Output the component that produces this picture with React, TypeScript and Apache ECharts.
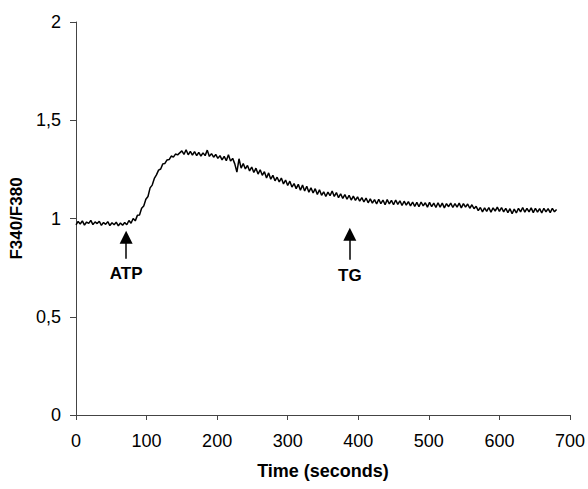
import React, { useEffect, useRef } from "react";
import * as echarts from "echarts";

const SAMPLE_STEP = 3; // seconds between samples
const ratioValues: number[] = [
  0.968, 0.985, 0.972, 0.988, 0.966, 0.982, 0.975, 0.990, 0.969, 0.983,
  0.974, 0.986, 0.965, 0.980, 0.970, 0.984, 0.964, 0.978, 0.968, 0.981,
  0.963, 0.977, 0.966, 0.980, 0.968, 0.990, 0.976, 1.000, 0.988, 1.016,
  1.018, 1.052, 1.064, 1.098, 1.112, 1.156, 1.170, 1.204, 1.222, 1.246,
  1.252, 1.278, 1.280, 1.298, 1.300, 1.318, 1.312, 1.328, 1.324, 1.334,
  1.344, 1.326, 1.350, 1.324, 1.342, 1.322, 1.340, 1.320, 1.336, 1.318,
  1.334, 1.320, 1.348, 1.316, 1.330, 1.312, 1.326, 1.306, 1.320, 1.298,
  1.316, 1.294, 1.324, 1.292, 1.306, 1.278, 1.236, 1.304, 1.256, 1.280,
  1.252, 1.270, 1.242, 1.262, 1.234, 1.256, 1.226, 1.248, 1.220, 1.238,
  1.206, 1.232, 1.200, 1.220, 1.192, 1.210, 1.186, 1.206, 1.176, 1.196,
  1.168, 1.190, 1.160, 1.178, 1.152, 1.174, 1.144, 1.170, 1.140, 1.164,
  1.134, 1.156, 1.130, 1.152, 1.122, 1.146, 1.118, 1.136, 1.112, 1.134,
  1.116, 1.140, 1.112, 1.132, 1.106, 1.126, 1.102, 1.122, 1.098, 1.118,
  1.094, 1.114, 1.092, 1.110, 1.088, 1.106, 1.084, 1.104, 1.080, 1.100,
  1.078, 1.096, 1.074, 1.098, 1.076, 1.094, 1.070, 1.096, 1.074, 1.092,
  1.070, 1.094, 1.072, 1.090, 1.066, 1.088, 1.068, 1.086, 1.064, 1.084,
  1.062, 1.082, 1.060, 1.084, 1.064, 1.080, 1.058, 1.082, 1.060, 1.078,
  1.056, 1.080, 1.058, 1.078, 1.054, 1.076, 1.060, 1.078, 1.056, 1.076,
  1.058, 1.078, 1.054, 1.076, 1.058, 1.074, 1.052, 1.070, 1.050, 1.062,
  1.040, 1.056, 1.034, 1.054, 1.036, 1.056, 1.032, 1.054, 1.038, 1.058,
  1.036, 1.056, 1.034, 1.052, 1.030, 1.050, 1.024, 1.048, 1.028, 1.052,
  1.034, 1.056, 1.032, 1.052, 1.034, 1.054, 1.030, 1.052, 1.032, 1.050,
  1.028, 1.052, 1.034, 1.050, 1.030, 1.052, 1.034, 1.046,
];

// Annotations: time, arrowhead centre value, arrow base value, label value
const annotationNames = ["ATP", "TG"];
const annotationTimes = [71, 388];
const arrowTips = [0.905, 0.92];
const arrowBases = [0.795, 0.79];
const labelValues = [0.72, 0.71];

const xTicks = { min: 0, max: 700, interval: 100 };
const yTicks = { min: 0, max: 2, interval: 0.5 };

export default function App() {
  const ref = useRef<HTMLDivElement>(null);
  useEffect(() => {
    if (!ref.current) return;
    const chart = echarts.init(ref.current, null, { renderer: "svg" });
    const data = ratioValues.map((v, i) => [i * SAMPLE_STEP, v]);
    const font = "Liberation Sans, Arial, sans-serif";
    const axisColor = "#444";
    chart.setOption({
      animation: false,
      backgroundColor: "#fff",
      grid: { left: 76, right: 17, top: 22, bottom: 74 },
      xAxis: {
        type: "value",
        ...xTicks,
        name: "Time (seconds)",
        nameLocation: "middle",
        nameGap: 47,
        nameTextStyle: { fontFamily: font, fontWeight: "bold", fontSize: 18, color: "#000" },
        axisLine: { show: true, lineStyle: { color: axisColor, width: 1 } },
        axisTick: { show: true, length: 5, lineStyle: { color: axisColor } },
        axisLabel: { fontFamily: font, fontSize: 18, color: "#000", margin: 17 },
        splitLine: { show: false },
      },
      yAxis: {
        type: "value",
        ...yTicks,
        name: "F340/F380",
        nameLocation: "middle",
        nameGap: 47,
        nameRotate: 90,
        nameTextStyle: { fontFamily: font, fontWeight: "bold", fontSize: 17, color: "#000" },
        axisLine: { show: true, lineStyle: { color: axisColor, width: 1 } },
        axisTick: { show: true, length: 6, lineStyle: { color: axisColor } },
        axisLabel: {
          fontFamily: font,
          fontSize: 18,
          color: "#000",
          margin: 15,
          formatter: (v: number) => String(v).replace(".", ","),
        },
        splitLine: { show: false },
      },
      series: [
        {
          type: "line",
          data,
          showSymbol: false,
          symbol: "none",
          lineStyle: { color: "#000", width: 1.5 },
          markLine: {
            silent: true,
            symbol: ["none", "triangle"],
            symbolSize: [13, 13],
            lineStyle: { color: "#000", width: 1.5, type: "solid" },
            label: { show: false },
            data: annotationNames.map((_, i) => [
              { coord: [annotationTimes[i], arrowBases[i]] },
              { coord: [annotationTimes[i], arrowTips[i]] },
            ]),
          },
          markPoint: {
            silent: true,
            symbol: "circle",
            symbolSize: 1,
            itemStyle: { color: "rgba(0,0,0,0)" },
            label: {
              show: true,
              position: "inside",
              fontFamily: font,
              fontWeight: "bold",
              fontSize: 17,
              color: "#000",
            },
            data: annotationNames.map((n, i) => ({
              coord: [annotationTimes[i], labelValues[i]],
              value: n,
              label: { formatter: n },
            })),
          },
        },
      ],
    });
    return () => chart.dispose();
  }, []);
  return (
    <div
      ref={ref}
      style={{ position: "absolute", left: 0, top: 0, width: 588, height: 489 }}
    />
  );
}
